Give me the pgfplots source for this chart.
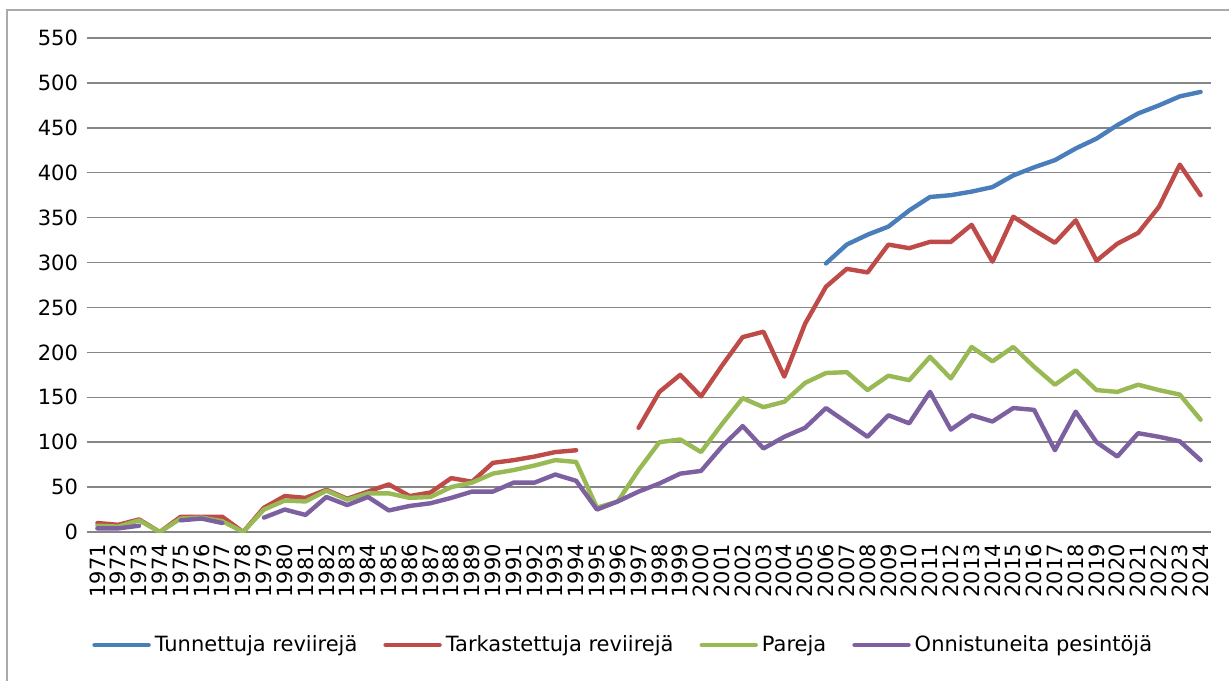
\documentclass[border=0pt]{standalone}
\usepackage{fontspec}
\setmainfont{DejaVu Sans}
\usepackage{pgfplots}
\usepackage{pgfplotstable}
\pgfplotsset{compat=1.18}
\definecolor{cblue}{HTML}{4A7EBB}
\definecolor{cred}{HTML}{BE4B48}
\definecolor{cgreen}{HTML}{98B954}
\definecolor{cpurple}{HTML}{7D60A0}
\definecolor{cgrid}{HTML}{868686}
\pgfplotstableread{
year tun tar par onn
1971 nan 10 7 4
1972 nan 8 6 4
1973 nan 14 13 7
1974 nan 0 0 nan
1975 nan 17 15 13
1976 nan 17 16 15
1977 nan 17 12 10
1978 nan 0 0 nan
1979 nan 27 25 16
1980 nan 40 35 25
1981 nan 38 34 19
1982 nan 47 46 39
1983 nan 37 36 30
1984 nan 45 43 39
1985 nan 53 43 24
1986 nan 40 38 29
1987 nan 44 39 32
1988 nan 60 50 38
1989 nan 56 55 45
1990 nan 77 65 45
1991 nan 80 69 55
1992 nan 84 74 55
1993 nan 89 80 64
1994 nan 91 78 57
1995 nan nan 27 25
1996 nan nan 34 34
1997 nan 116 69 45
1998 nan 156 100 54
1999 nan 175 103 65
2000 nan 151 89 68
2001 nan 185 120 95
2002 nan 217 149 118
2003 nan 223 139 93
2004 nan 173 145 106
2005 nan 232 166 116
2006 299 273 177 138
2007 320 293 178 122
2008 331 289 158 106
2009 340 320 174 130
2010 358 316 169 121
2011 373 323 195 156
2012 375 323 171 114
2013 379 342 206 130
2014 384 301 190 123
2015 397 351 206 138
2016 406 336 184 136
2017 414 322 164 91
2018 427 347 180 134
2019 438 302 158 100
2020 453 321 156 84
2021 466 333 164 110
2022 475 362 158 106
2023 485 409 153 101
2024 490 375 125 80
}\datatable
\begin{document}
\begin{tikzpicture}
\path[use as bounding box] (0,0) rectangle (614.5pt,340pt);
\fill[white] (0,0) rectangle (614.5pt,340pt);
\draw[color=cgrid!70, line width=0.6pt] (3.5pt,-2pt) -- (3.5pt,335pt) -- (620pt,335pt);
\begin{axis}[
  at={(43.5pt,74pt)}, anchor=south west,
  scale only axis, width=562pt, height=247pt,
  xmin=1970.5, xmax=2024.5, ymin=0, ymax=550,
  xtick={1971,1972,1973,1974,1975,1976,1977,1978,1979,1980,1981,1982,1983,1984,1985,1986,1987,1988,1989,1990,1991,1992,1993,1994,1995,1996,1997,1998,1999,2000,2001,2002,2003,2004,2005,2006,2007,2008,2009,2010,2011,2012,2013,2014,2015,2016,2017,2018,2019,2020,2021,2022,2023,2024},
  ytick={0,50,100,150,200,250,300,350,400,450,500,550},
  axis line style={draw=none},
  major tick length=0pt,
  ymajorgrids, grid style={color=cgrid, line width=0.75pt},
  tick label style={font=\fontsize{10.5}{12.6}\selectfont},
  xticklabel style={rotate=90, anchor=east},
  xticklabel shift=2.5pt,
  yticklabel style={anchor=east},
  yticklabel shift=1pt,
  /pgf/number format/assume math mode=true,
  /pgf/number format/1000 sep={},
  /pgf/number format/fixed, /pgf/number format/precision=0,
  unbounded coords=jump,
  legend columns=4,
  legend style={at={(0.478,-0.2287)}, anchor=center, draw=none, fill=none,
    font=\fontsize{10.5}{12.6}\selectfont,
    /tikz/every even column/.append style={column sep=11pt}},
  legend image code/.code={\draw[#1, line width=2.2pt] (0pt,0pt) -- (27pt,0pt);},
  every axis plot/.append style={line width=2.2pt, line cap=round, line join=round, mark=none},
]
\addplot[cblue] table[x=year, y=tun] {\datatable};
\addlegendentry{Tunnettuja reviirejä}
\addplot[cred] table[x=year, y=tar] {\datatable};
\addlegendentry{Tarkastettuja reviirejä}
\addplot[cgreen] table[x=year, y=par] {\datatable};
\addlegendentry{Pareja}
\addplot[cpurple] table[x=year, y=onn] {\datatable};
\addlegendentry{Onnistuneita pesintöjä}
\end{axis}
\end{tikzpicture}
\end{document}
